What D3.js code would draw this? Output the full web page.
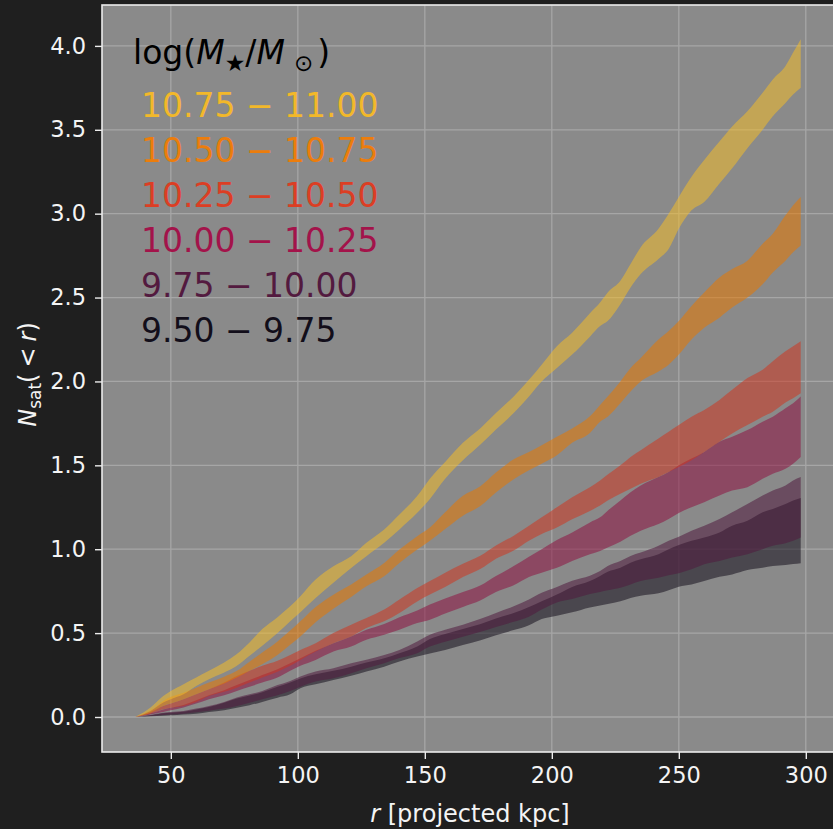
<!DOCTYPE html>
<html><head><meta charset="utf-8">
<script src="https://cdn.jsdelivr.net/npm/d3@7"></script>
<style>body{margin:0;background:#1f1f1f;overflow:hidden}svg{display:block}</style>
</head><body>
<script>
// projected radius (kpc)
const radius = [36,42,47,50,55,60,65,71,76,81,86,92,97,101,107,114,121,127,134,140,147,152,158,165,172,178,185,191,196,202,208,215,219,222,227,231,235,242,246,250,255,260,266,271,277,283,287,292,295,298];

// band bounds per stellar-mass bin
const bin950Lo  = [0,0.004,0.008,0.01,0.015,0.02,0.03,0.04,0.055,0.07,0.09,0.115,0.135,0.171,0.195,0.221,0.246,0.271,0.30,0.331,0.36,0.379,0.399,0.429,0.458,0.488,0.518,0.547,0.584,0.604,0.624,0.653,0.665,0.673,0.69,0.71,0.723,0.737,0.755,0.777,0.79,0.81,0.836,0.85,0.876,0.89,0.90,0.906,0.912,0.917];
const bin950Hi  = [0,0.01,0.022,0.026,0.032,0.045,0.06,0.085,0.11,0.128,0.148,0.18,0.205,0.23,0.255,0.275,0.30,0.325,0.35,0.38,0.42,0.465,0.495,0.525,0.555,0.587,0.62,0.656,0.69,0.73,0.775,0.81,0.84,0.866,0.89,0.92,0.94,0.97,1.0,1.025,1.05,1.07,1.10,1.14,1.17,1.22,1.24,1.27,1.29,1.305];
const bin975Lo  = [0,0.006,0.012,0.015,0.02,0.028,0.038,0.05,0.066,0.085,0.106,0.13,0.155,0.181,0.211,0.231,0.261,0.291,0.321,0.351,0.38,0.42,0.449,0.478,0.508,0.537,0.567,0.597,0.64,0.683,0.703,0.733,0.745,0.755,0.77,0.79,0.81,0.83,0.845,0.857,0.88,0.91,0.93,0.95,0.97,1.0,1.02,1.035,1.05,1.07];
const bin975Hi  = [0,0.012,0.026,0.03,0.036,0.05,0.066,0.09,0.116,0.135,0.155,0.19,0.215,0.241,0.271,0.291,0.321,0.341,0.37,0.40,0.45,0.49,0.52,0.55,0.585,0.62,0.66,0.70,0.74,0.775,0.812,0.842,0.87,0.90,0.93,0.96,0.98,1.02,1.05,1.075,1.11,1.14,1.18,1.22,1.27,1.32,1.35,1.38,1.41,1.43];
const bin1000Lo = [0,0.015,0.03,0.04,0.056,0.08,0.106,0.13,0.155,0.18,0.205,0.235,0.275,0.305,0.34,0.39,0.42,0.46,0.49,0.52,0.56,0.58,0.617,0.656,0.696,0.745,0.785,0.834,0.86,0.89,0.93,0.97,0.99,1.01,1.045,1.08,1.11,1.15,1.18,1.216,1.25,1.28,1.32,1.35,1.37,1.42,1.45,1.48,1.51,1.55];
const bin1000Hi = [0,0.022,0.045,0.055,0.072,0.10,0.13,0.16,0.19,0.22,0.25,0.285,0.32,0.35,0.395,0.44,0.48,0.52,0.555,0.595,0.635,0.67,0.706,0.745,0.785,0.84,0.90,0.955,1.0,1.055,1.10,1.16,1.19,1.23,1.29,1.34,1.38,1.43,1.46,1.50,1.54,1.58,1.64,1.67,1.71,1.76,1.79,1.84,1.87,1.91];
const bin1025Lo = [0,0.02,0.046,0.055,0.066,0.09,0.125,0.15,0.175,0.205,0.235,0.27,0.305,0.34,0.39,0.44,0.48,0.53,0.57,0.62,0.689,0.73,0.775,0.834,0.883,0.943,0.992,1.05,1.09,1.129,1.178,1.228,1.26,1.29,1.33,1.36,1.39,1.43,1.46,1.49,1.53,1.58,1.64,1.69,1.74,1.79,1.82,1.875,1.90,1.93];
const bin1025Hi = [0,0.03,0.066,0.08,0.106,0.135,0.165,0.205,0.245,0.275,0.305,0.335,0.37,0.40,0.44,0.50,0.55,0.59,0.64,0.70,0.769,0.81,0.86,0.913,0.962,1.022,1.081,1.14,1.19,1.25,1.31,1.37,1.41,1.445,1.50,1.55,1.59,1.66,1.70,1.74,1.79,1.83,1.89,1.95,2.02,2.07,2.12,2.18,2.21,2.24];
const bin1050Lo = [0,0.025,0.066,0.08,0.106,0.135,0.165,0.20,0.235,0.275,0.315,0.37,0.43,0.48,0.565,0.645,0.715,0.779,0.839,0.918,0.998,1.05,1.12,1.20,1.259,1.338,1.417,1.47,1.51,1.56,1.634,1.693,1.76,1.79,1.87,1.94,2.0,2.06,2.10,2.16,2.25,2.32,2.38,2.44,2.50,2.58,2.65,2.72,2.77,2.81];
const bin1050Hi = [0,0.04,0.096,0.12,0.145,0.175,0.205,0.24,0.275,0.33,0.384,0.45,0.515,0.57,0.655,0.729,0.789,0.849,0.918,0.998,1.078,1.13,1.22,1.318,1.377,1.457,1.536,1.58,1.62,1.67,1.72,1.792,1.86,1.91,2.0,2.08,2.14,2.25,2.30,2.36,2.45,2.53,2.62,2.67,2.72,2.82,2.88,2.99,3.05,3.10];
const bin1075Lo = [0,0.036,0.086,0.106,0.135,0.185,0.225,0.265,0.305,0.365,0.424,0.50,0.57,0.625,0.71,0.80,0.888,0.958,1.038,1.118,1.217,1.30,1.42,1.53,1.625,1.713,1.812,1.911,2.0,2.08,2.16,2.267,2.33,2.36,2.46,2.56,2.64,2.73,2.79,2.91,3.02,3.07,3.18,3.27,3.39,3.50,3.58,3.66,3.71,3.75];
const bin1075Hi = [0,0.056,0.125,0.155,0.195,0.235,0.275,0.325,0.375,0.444,0.524,0.595,0.66,0.72,0.819,0.898,0.958,1.038,1.118,1.207,1.317,1.42,1.52,1.634,1.723,1.812,1.911,2.01,2.10,2.21,2.29,2.406,2.47,2.53,2.60,2.70,2.80,2.91,3.0,3.10,3.22,3.32,3.43,3.52,3.61,3.72,3.80,3.88,3.96,4.04];

const binLabels = ["9.50 \u2212 9.75","9.75 \u2212 10.00","10.00 \u2212 10.25","10.25 \u2212 10.50","10.50 \u2212 10.75","10.75 \u2212 11.00"];
const xTicks = [50,100,150,200,250,300];
const yTicks = [0,0.5,1,1.5,2,2.5,3,3.5,4];

// styles
const bandColors = ["#15101d","#50193e","#8e1241","#cd3621","#e87800","#f2bb2a"];
const textColors = ["#120e1a","#531a3f","#a3134a","#dc3e24","#ec7d0c","#f2b82a"];

const bins = [
  {lo: bin950Lo,  hi: bin950Hi},
  {lo: bin975Lo,  hi: bin975Hi},
  {lo: bin1000Lo, hi: bin1000Hi},
  {lo: bin1025Lo, hi: bin1025Hi},
  {lo: bin1050Lo, hi: bin1050Hi},
  {lo: bin1075Lo, hi: bin1075Hi}
];

const W = 833, H = 829;
const L = 102, R = 834, T = 5, B = 752;
const FONT = "DejaVu Sans, Verdana, sans-serif";

const svg = d3.select("body").append("svg").attr("width", W).attr("height", H);
svg.append("rect").attr("width", W).attr("height", H).attr("fill", "#1f1f1f");

const x = d3.scaleLinear().domain([22.9, 311.1]).range([L, R]);
const y = d3.scaleLinear().domain([-0.2086, 4.2437]).range([B, T]);

svg.append("rect").attr("x", L).attr("y", T).attr("width", R - L).attr("height", B - T).attr("fill", "#8a8a8a");

// grid
const grid = svg.append("g").attr("stroke", "#a6a6a6").attr("stroke-width", 1.3);
grid.selectAll("line.gx").data(xTicks).join("line")
  .attr("x1", d => x(d)).attr("x2", d => x(d)).attr("y1", T).attr("y2", B);
grid.selectAll("line.gy").data(yTicks).join("line")
  .attr("y1", d => y(d)).attr("y2", d => y(d)).attr("x1", L).attr("x2", R);

// bands
const area = d3.area()
  .x((d, i) => x(radius[i]))
  .y0(d => y(d[0]))
  .y1(d => y(d[1]))
  .curve(d3.curveMonotoneX);

bins.forEach((b, k) => {
  const pts = radius.map((_, i) => [b.lo[i], b.hi[i]]);
  svg.append("path").datum(pts)
    .attr("d", area)
    .attr("fill", bandColors[k])
    .attr("fill-opacity", 0.55)
    .attr("stroke", "none");
});

// spines
svg.append("rect").attr("x", L).attr("y", T).attr("width", R - L).attr("height", B - T)
  .attr("fill", "none").attr("stroke", "#ececec").attr("stroke-width", 1.6);

// axes
const xAxis = d3.axisBottom(x).tickValues(xTicks).tickSize(7).tickPadding(8).tickFormat(d3.format("d"));
const yAxis = d3.axisLeft(y).tickValues(yTicks).tickSize(7).tickPadding(9).tickFormat(d3.format(".1f"));

const gx = svg.append("g").attr("transform", `translate(0,${B})`).call(xAxis);
const gy = svg.append("g").attr("transform", `translate(${L},0)`).call(yAxis);
[gx, gy].forEach(g => {
  g.select(".domain").remove();
  g.selectAll(".tick line").attr("stroke", "#ececec").attr("stroke-width", 1.4);
  g.selectAll(".tick text").attr("fill", "#f4f4f4").style("font-family", FONT).style("font-size", "22.5px");
});

// axis labels
const xl = svg.append("text").attr("x", (L + R) / 2 + 2).attr("y", 822)
  .attr("text-anchor", "middle").attr("fill", "#f4f4f4")
  .style("font-family", FONT).style("font-size", "24px");
xl.append("tspan").style("font-style", "italic").text("r");
xl.append("tspan").text(" [projected kpc]");

const yl = svg.append("text").attr("transform", `translate(36,${(T + B) / 2 - 4}) rotate(-90)`)
  .attr("text-anchor", "middle").attr("fill", "#f4f4f4")
  .style("font-family", FONT).style("font-size", "24px");
yl.append("tspan").style("font-style", "italic").text("N");
yl.append("tspan").attr("dy", 5).style("font-size", "17px").text("sat");
yl.append("tspan").attr("dy", -5).text("(");
yl.append("tspan").attr("dx", 6).text("<");
yl.append("tspan").attr("dx", 6).style("font-style", "italic").text("r");
yl.append("tspan").text(")");

// legend
const lg = svg.append("g");
const title = lg.append("text").attr("x", 133).attr("y", 64).attr("fill", "#000")
  .style("font-family", FONT).style("font-size", "33px");
title.append("tspan").text("log(");
title.append("tspan").style("font-style", "italic").text("M");
title.append("tspan").attr("dy", 7).style("font-size", "23px").text("\u2605");
title.append("tspan").attr("dy", -7).text("/");
title.append("tspan").style("font-style", "italic").text("M");
title.append("tspan").attr("dy", 7).attr("dx", 9).style("font-size", "23px").text("\u2299");
title.append("tspan").attr("dy", -7).attr("dx", 4).text(")");

const order = [5, 4, 3, 2, 1, 0];
order.forEach((k, j) => {
  lg.append("text").attr("x", 141).attr("y", 117 + 45 * j)
    .attr("fill", textColors[k])
    .style("font-family", FONT).style("font-size", "33px")
    .text(binLabels[k]);
});
</script>
</body></html>
